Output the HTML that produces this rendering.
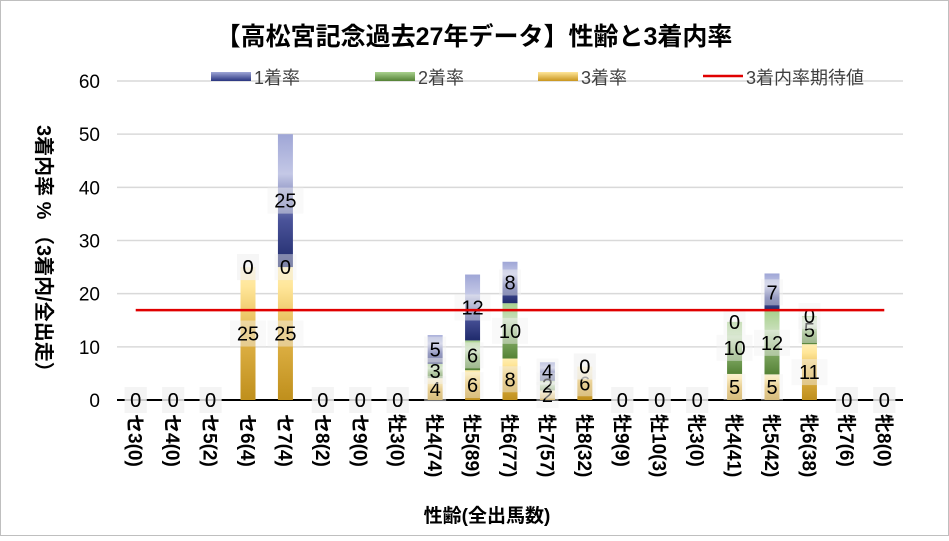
<!DOCTYPE html>
<html><head><meta charset="utf-8">
<style>
html,body{margin:0;padding:0;background:#fff;}
body{width:949px;height:536px;overflow:hidden;font-family:"Liberation Sans","Noto Sans CJK JP",sans-serif;}
svg text{font-family:"Liberation Sans","Noto Sans CJK JP",sans-serif;}
</style></head>
<body>
<svg id="chart" width="949" height="536" xmlns="http://www.w3.org/2000/svg">
<defs>
<linearGradient id="g1" x1="0" y1="1" x2="0" y2="0"><stop offset="0" stop-color="#1f2a6b"/><stop offset="0.35" stop-color="#4a5399"/><stop offset="0.7" stop-color="#c4c8e6"/><stop offset="1" stop-color="#9fa6d6"/></linearGradient>
<linearGradient id="g2" x1="0" y1="1" x2="0" y2="0"><stop offset="0" stop-color="#548235"/><stop offset="0.4" stop-color="#86ad6a"/><stop offset="0.7" stop-color="#c8dfba"/><stop offset="1" stop-color="#a9d18e"/></linearGradient>
<linearGradient id="g3" x1="0" y1="1" x2="0" y2="0"><stop offset="0" stop-color="#bf8f1c"/><stop offset="0.5" stop-color="#e2b54a"/><stop offset="0.85" stop-color="#ffe699"/><stop offset="1" stop-color="#ffeeb3"/></linearGradient>
<linearGradient id="lg1" x1="0" y1="0" x2="0" y2="1"><stop offset="0" stop-color="#9fa6d6"/><stop offset="1" stop-color="#2a3580"/></linearGradient>
<linearGradient id="lg2" x1="0" y1="0" x2="0" y2="1"><stop offset="0" stop-color="#a9d18e"/><stop offset="1" stop-color="#548235"/></linearGradient>
<linearGradient id="lg3" x1="0" y1="0" x2="0" y2="1"><stop offset="0" stop-color="#ffe699"/><stop offset="1" stop-color="#c9961e"/></linearGradient>
</defs>
<rect x="0.5" y="0.5" width="948" height="535" fill="#fff" stroke="#bfbfbf"/>
<text x="474" y="45" text-anchor="middle" font-size="25" font-weight="bold" fill="#000">【高松宮記念過去27年データ】性齢と3着内率</text>
<g id="grid"></g>
<g id="yticks"></g>
<g id="bars"></g>
<g id="labels"></g>
<g id="xlabels"></g>
<text transform="translate(37,125) rotate(90)" font-size="20" font-weight="bold" fill="#000">3着内率 % （3着内/全出走）</text>
<text x="487" y="522" text-anchor="middle" font-size="19" font-weight="bold" fill="#000">性齢(全出馬数)</text>
<g>
<g><rect x="211" y="72" width="40" height="9" fill="url(#lg1)"/><text x="254" y="84" font-size="18" fill="#404040">1着率</text></g>
<g><rect x="375" y="72" width="40" height="9" fill="url(#lg2)"/><text x="418" y="84" font-size="18" fill="#404040">2着率</text></g>
<g><rect x="538" y="72" width="40" height="9" fill="url(#lg3)"/><text x="581" y="84" font-size="18" fill="#404040">3着率</text></g>
<g><line x1="703" y1="76" x2="743" y2="76" stroke="#e00000" stroke-width="2.5"/><text x="746" y="84" font-size="18" fill="#404040">3着内率期待値</text></g>
</g>
</svg>
<script>
const categories=["セ3(0)","セ4(0)","セ5(2)","セ6(4)","セ7(4)","セ8(2)","セ9(0)","牡3(0)","牡4(74)","牡5(89)","牡6(77)","牡7(57)","牡8(32)","牡9(9)","牡10(3)","牝3(0)","牝4(41)","牝5(42)","牝6(38)","牝7(6)","牝8(0)"];
const third=[0,0,0,25,25,0,0,0,4.1,5.6,7.8,1.8,6.3,0,0,0,4.9,4.8,10.5,0,0];
const second=[0,0,0,0,0,0,0,0,2.7,5.6,10.4,1.8,0,0,0,0,9.8,11.9,5.3,0,0];
const first=[0,0,0,0,25,0,0,0,5.4,12.4,7.8,3.5,0,0,0,0,0,7.1,0,0,0];
const yTicks=[0,10,20,30,40,50,60];
const expected=16.9;
const NS="http://www.w3.org/2000/svg";
const x0=117,x1=903,yBase=400,yTop=81,yMax=60;
const step=(x1-x0)/categories.length;
function xs(i){return x0+step*(i+0.5);}
function ys(v){return yBase-(v/yMax)*(yBase-yTop);}
function mk(tag,attrs,parent){const e=document.createElementNS(NS,tag);for(const k in attrs)e.setAttribute(k,attrs[k]);parent.appendChild(e);return e;}
const grid=document.getElementById('grid'),yt=document.getElementById('yticks'),bars=document.getElementById('bars'),labels=document.getElementById('labels'),xl=document.getElementById('xlabels');
yTicks.forEach(t=>{
 const l=mk('line',{x1:x0,x2:x1,y1:ys(t),y2:ys(t),stroke:t===0?'#000':'#d9d9d9','stroke-width':t===0?2:1.5},grid);
 
 
 const tx=mk('text',{x:100,y:ys(t)+7,'text-anchor':'end','font-size':19,fill:'#000'},yt);
 tx.textContent=t;
 
 
});
const bw=15;
const series=[[third,'url(#g3)','third'],[second,'url(#g2)','second'],[first,'url(#g1)','first']];
categories.forEach((c,i)=>{
 let acc=0;
 series.forEach(([arr,fill,nm])=>{
  const v=arr[i];const yb=ys(acc),yt2=ys(acc+v);
  if(v>0){const r=mk('rect',{x:xs(i)-bw/2,y:yt2,width:bw,height:yb-yt2,fill:fill},bars);
   
   }
  const cy=(yb+yt2)/2;
  const lbl=Math.round(v);
  const bg=mk('rect',{x:xs(i)-(lbl>=10?18:11),y:cy-13,width:lbl>=10?36:22,height:26,fill:'#f2f2f2','fill-opacity':0.45},labels);
  
  
  const t=mk('text',{x:xs(i),y:cy+7,'text-anchor':'middle','font-size':20,fill:'#000'},labels);
  t.textContent=lbl;
  
  
  acc+=v;
 });
 const xt=mk('text',{transform:`translate(${xs(i)-7},414) rotate(90)`,'font-size':19,'font-weight':'bold',fill:'#000'},xl);
 xt.textContent=c;
 
 
});
const el=mk('line',{x1:xs(0),x2:xs(categories.length-1),y1:ys(expected),y2:ys(expected),stroke:'#e00000','stroke-width':2.5},document.getElementById('chart'));


</script>
</body></html>
